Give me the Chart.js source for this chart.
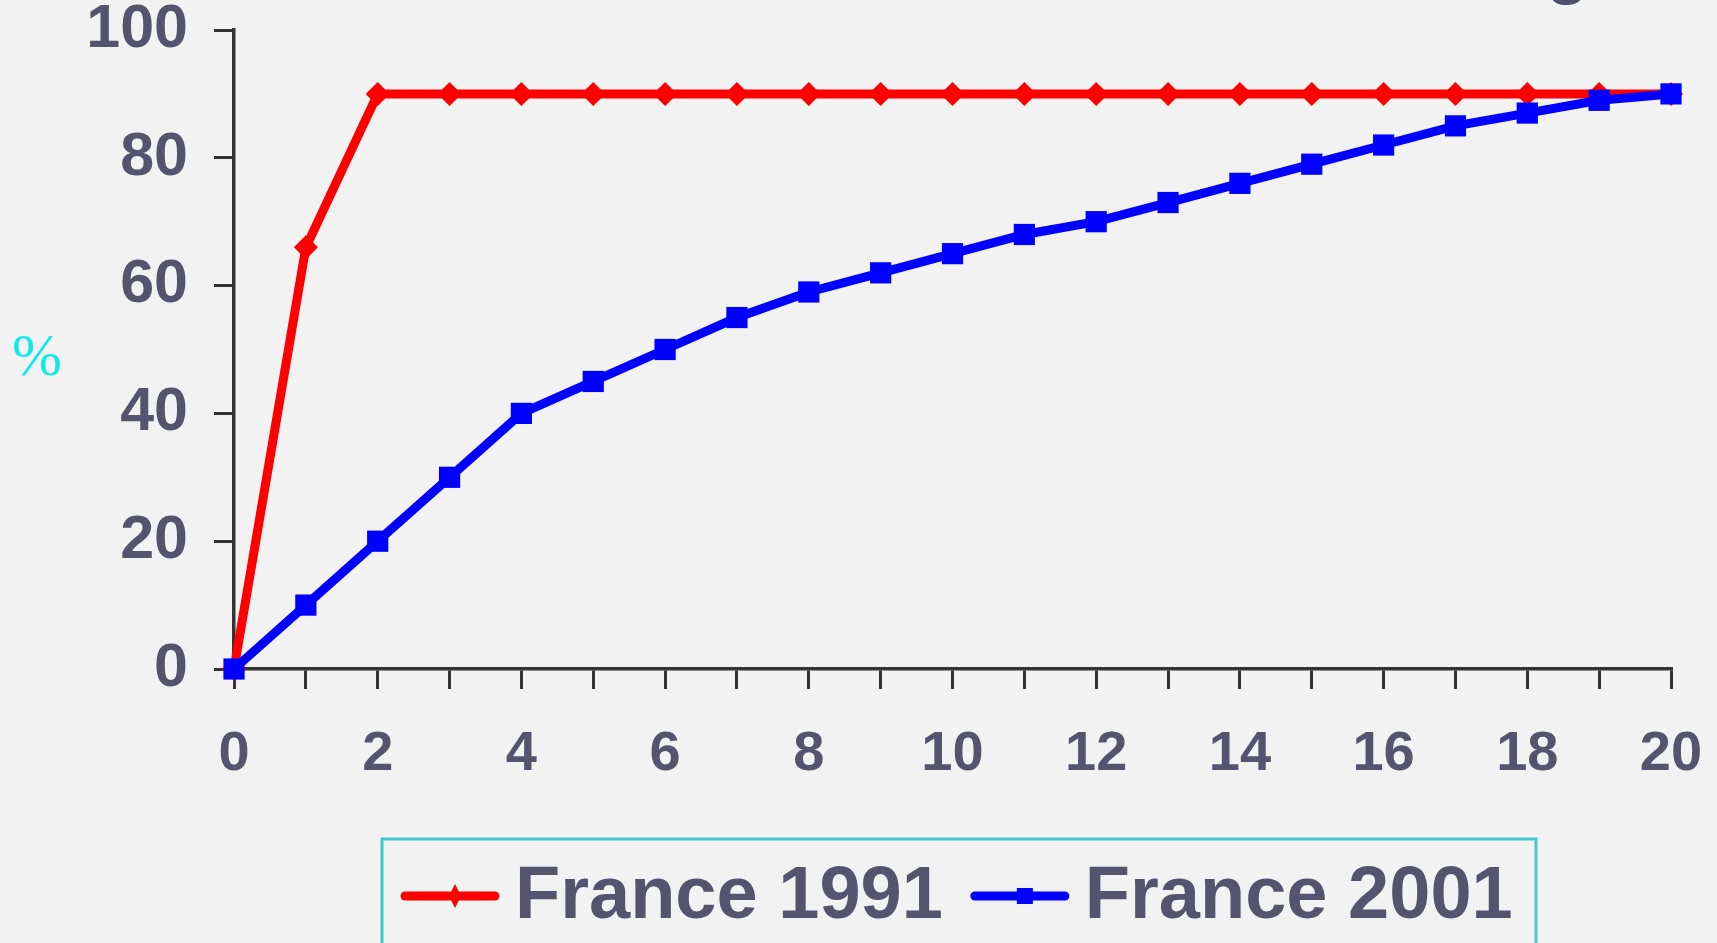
<!DOCTYPE html>
<html>
<head>
<meta charset="utf-8">
<script src="https://cdn.jsdelivr.net/npm/chart.js@4.4.0/dist/chart.umd.min.js"></script>
<style>
  html, body { margin: 0; padding: 0; background: #f2f2f2; overflow: hidden; }
  #wrap { position: relative; width: 1717px; height: 943px; }
  #frag { position: absolute; left: 1546px; top: -69px; font: bold 70px "Liberation Sans", Arial, sans-serif; color: #4f4f70; line-height: 1; }
</style>
</head>
<body>
<div id="wrap">
  <canvas id="c" width="1717" height="943"></canvas>
  <div id="frag">g</div>
</div>
<script>
const years = [0,1,2,3,4,5,6,7,8,9,10,11,12,13,14,15,16,17,18,19,20];
const france1991 = [0,66,90,90,90,90,90,90,90,90,90,90,90,90,90,90,90,90,90,90,90];
const france2001 = [0,10,20,30,40,45,50,55,59,62,65,68,70,73,76,79,82,85,87,89,90];
const seriesNames = ['France 1991', 'France 2001'];
const yTicks = [0,20,40,60,80,100];
const yUnit = '%';

const TXT = '#54546f';
const AX = '#333333';

const pts = arr => years.map((x, i) => ({x: x, y: arr[i]}));

const legendPlugin = {
  id: 'boxLegend',
  afterDraw(chart) {
    const ctx = chart.ctx;
    ctx.save();
    ctx.strokeStyle = '#40c8cc';
    ctx.lineWidth = 3;
    ctx.strokeRect(382, 839, 1154, 140);
    const ds = chart.data.datasets;
    let x = 405;
    const y = 896;
    ctx.font = 'bold 74px "Liberation Sans", Arial, sans-serif';
    ctx.textBaseline = 'middle';
    [ds[0], ds[1]].forEach(d => {
      ctx.strokeStyle = d.borderColor;
      ctx.lineWidth = 9;
      ctx.lineCap = 'round';
      ctx.beginPath(); ctx.moveTo(x, y); ctx.lineTo(x + 90, y); ctx.stroke();
      ctx.fillStyle = d.backgroundColor;
      const cx = x + 50;
      ctx.beginPath();
      if (d.pointStyle === 'rectRot') {
        ctx.moveTo(cx, y - 12); ctx.lineTo(cx + 6, y); ctx.lineTo(cx, y + 12); ctx.lineTo(cx - 6, y);
      } else {
        ctx.rect(cx - 8, y - 8, 16, 16);
      }
      ctx.closePath(); ctx.fill();
      ctx.fillStyle = TXT;
      ctx.fillText(d.label, x + 110, y + 2);
      x += 110 + ctx.measureText(d.label).width + 32;
    });
    ctx.fillStyle = '#11e8e8';
    ctx.font = '60px "Liberation Serif", "DejaVu Serif", serif';
    ctx.textAlign = 'center';
    ctx.fillText(yUnit, 37, 359);
    ctx.restore();
  }
};

new Chart(document.getElementById('c'), {
  type: 'line',
  data: {
    datasets: [
      { label: seriesNames[0], data: pts(france1991), borderColor: '#ff0000', backgroundColor: '#ff0000',
        borderWidth: 9, pointStyle: 'rectRot', pointRadius: 12, pointBorderWidth: 0, order: 2, tension: 0 },
      { label: seriesNames[1], data: pts(france2001), borderColor: '#0000ff', backgroundColor: '#0000ff',
        borderWidth: 9, pointStyle: 'rect', pointRadius: 15, pointBorderWidth: 0, order: 1, tension: 0 }
    ]
  },
  options: {
    responsive: false,
    animation: false,
    clip: false,
    layout: { padding: { left: 0, right: 46, top: 30, bottom: 0 } },
    plugins: { legend: { display: false }, tooltip: { enabled: false }, title: { display: false } },
    scales: {
      x: {
        type: 'linear', min: 0, max: 20,
        afterFit(s) { s.height = 274; s.paddingLeft = 0; s.paddingRight = 0; },
        border: { display: true, color: AX, width: 3.5 },
        grid: { drawOnChartArea: false, drawTicks: true, tickLength: 20, color: AX, lineWidth: 3 },
        ticks: { stepSize: 1, autoSkip: false, maxRotation: 0, padding: 38, color: TXT,
          font: { family: '"Liberation Sans", Arial, sans-serif', size: 56, weight: 'bold', lineHeight: 1 },
          callback: v => (v % 2 === 0 ? String(v) : '') }
      },
      y: {
        min: 0, max: 100,
        afterFit(s) { s.width = 234; s.paddingTop = 0; s.paddingBottom = 0; },
        afterBuildTicks(s) { s.ticks = yTicks.map(v => ({value: v})); },
        border: { display: true, color: AX, width: 3.5 },
        grid: { drawOnChartArea: false, drawTicks: true, tickLength: 20, color: AX, lineWidth: 3 },
        ticks: { padding: 26, color: TXT,
          font: { family: '"Liberation Sans", Arial, sans-serif', size: 61, weight: 'bold', lineHeight: 1 } }
      }
    }
  },
  plugins: [legendPlugin]
});
</script>
</body>
</html>
